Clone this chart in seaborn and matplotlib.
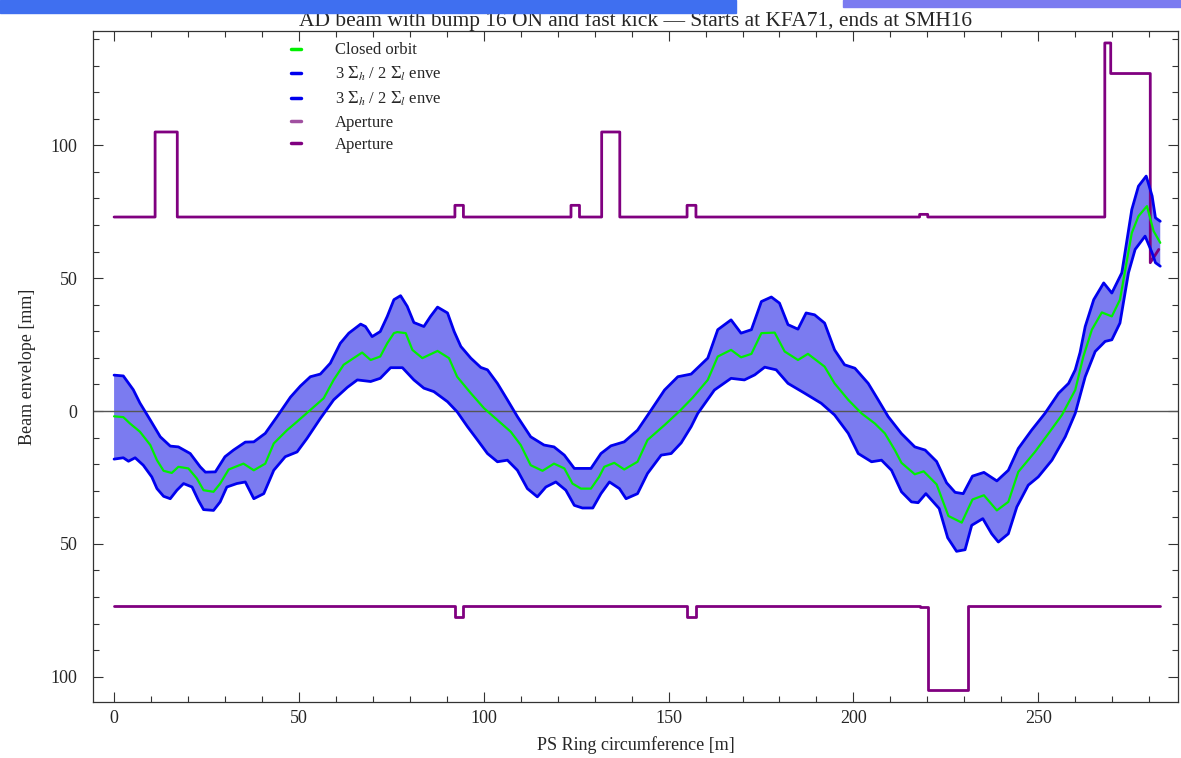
import numpy as np
import pandas as pd
import matplotlib
matplotlib.use("Agg")
import matplotlib.pyplot as plt
import matplotlib.patches as mpatches
from matplotlib.lines import Line2D
from matplotlib.ticker import MultipleLocator, FuncFormatter
import seaborn as sns

# --- Donnees (s en m, enveloppes en mm) ---
orbit_s = [0, 2.5, 4.3, 7, 9.8, 11.6, 13.4, 15.6, 17.4, 20.1, 22.4, 24.2, 26.9, 28.7,
           31, 35, 37.8, 40.9, 43.2, 46.8, 49.5, 53.1, 56.7, 59.4, 62.1, 64.8, 67.1,
           69.4, 72, 73.9, 75.7, 76.6, 78.9, 80.7, 83.4, 85.2, 87.5, 90.6, 92.8, 96.5,
           100.1, 103.7, 107.3, 110, 112.7, 115.9, 119, 121.8, 124, 126.3, 129, 131.2,
           132.6, 135.3, 138, 141.6, 144.3, 148.9, 153, 156.5, 160.6, 163.3, 166.9,
           169.6, 172.4, 175.1, 178.7, 181.4, 185, 187.7, 192.2, 194.9, 198.6, 202.2,
           205.8, 208.5, 211.2, 213, 216.6, 219, 222.5, 225.7, 229.3, 232.2, 235.3,
           238.8, 241.9, 244.6, 249.1, 252.8, 256.4, 260, 262.2, 264.5, 267.2, 269.9,
           272.1, 275.3, 277.1, 279.4, 281.2, 283]
orbit_mm = [-2, -2.3, -4.7, -7.8, -12.8, -18.5, -22.5, -23.3, -21, -21.6, -25.4, -29.8,
            -30.4, -27.3, -22, -19.8, -22.3, -19.8, -12.2, -7.2, -4, 0.4, 4.8, 11.7, 17.4,
            19.9, 22, 19.2, 20.5, 25.5, 29.3, 29.7, 29.3, 23, 19.9, 21.1, 22.6, 19.9, 12.9,
            6.7, 1, -3.4, -7.8, -12.8, -20.4, -22.5, -19.8, -21.6, -27.3, -29.2, -29.2,
            -24.8, -21, -19.5, -22, -19.1, -10.9, -5.3, 0, 5, 11.7, 20.5, 23, 20.2, 21.5,
            29.3, 29.5, 22.4, 19.2, 21.5, 16.7, 10.4, 4.2, -0.9, -4.7, -8.4, -14.7, -19.5,
            -23.8, -22.7, -27.6, -39.5, -42, -33.3, -31.7, -37.4, -34.2, -22.9, -15.4,
            -8.4, -1.5, 7.9, 20.5, 30.6, 37.1, 35.6, 41.9, 67, 73.3, 77.1, 67.7, 63.3]

upper_s = [0, 2.5, 5.2, 7, 9.8, 12.5, 15.2, 17.4, 20.6, 23.3, 24.7, 27.4, 30, 32.3,
           35.5, 37.8, 40.9, 44.1, 47.7, 50.4, 53.1, 55.8, 58.5, 61.2, 63.5, 66.7, 68,
           69.8, 72, 73.9, 75.7, 77.5, 79.3, 81.1, 83.8, 85.6, 87.5, 90.2, 92, 93.8,
           96.5, 99.2, 101, 103.7, 106.4, 109.1, 112.7, 116.3, 119, 121.8, 124.5, 129,
           131.7, 134.4, 138, 141.6, 145.3, 148.9, 152.5, 156.1, 160.6, 163.3, 166.9,
           169.6, 172.4, 175.1, 177.8, 180, 182.3, 185, 187.2, 189.5, 192.2, 194.9,
           197.6, 200.4, 204, 206.7, 209.4, 213, 216.6, 219.4, 222.5, 225.2, 227.5,
           229.7, 232.2, 235.3, 238.8, 241.9, 244.6, 248.2, 251.8, 255.5, 258.2, 260,
           261.3, 262.7, 265, 267.7, 269.9, 272.6, 275.3, 277.1, 279.2, 280.8, 281.7, 283]
upper_mm = [13.5, 13.2, 8, 3, -3.4, -9.7, -13.2, -13.5, -16, -21, -23, -22.9, -17.2,
            -14.7, -11.7, -11.6, -8.4, -2.1, 5.2, 9.4, 12.9, 13.9, 18, 25.5, 29.3, 32.7,
            31.8, 28, 29.9, 35.6, 41.9, 43.4, 39.4, 33.3, 31.8, 35.6, 39.1, 36.9, 29.9,
            24.3, 19.9, 16.4, 15.5, 10.4, 4.2, -2.1, -9.7, -12.8, -13.5, -16.6, -21.6,
            -21.6, -16, -13.1, -11.6, -7.2, 0.4, 7.9, 12.9, 13.9, 19.9, 30.6, 34.3, 29.3,
            30.6, 41.2, 42.9, 40.6, 32.5, 30.8, 36.9, 36.2, 33.1, 23, 17.4, 16.1, 10.4,
            4.2, -2.1, -8.5, -13.5, -14.7, -19, -27, -30.6, -31.1, -24.5, -23.1, -26.3,
            -22.3, -14.1, -7.2, -0.9, 6.7, 10.4, 15.5, 22, 31.8, 41.9, 48.2, 44.4, 52,
            75.8, 84.6, 88.4, 80.9, 72.7, 71.4]

lower_s = [0, 2.5, 3.9, 5.7, 7.9, 10.2, 11.6, 13.4, 15.2, 17, 18.8, 21.1, 22.8, 24.2,
           26.9, 28.7, 30.5, 33.2, 35.5, 37.8, 40.5, 43.2, 46.3, 49.5, 52.2, 55.8, 59.4,
           63.1, 65.8, 69.4, 72, 74.8, 78, 81.1, 83.8, 86.5, 90.2, 92.8, 95.6, 98.3, 101,
           103.7, 106.4, 109.1, 111.8, 114.5, 116.8, 119.5, 122.2, 124.5, 126.7, 129.5,
           131.7, 134, 136.7, 138.5, 141.6, 144.3, 148, 150.7, 153.4, 156.1, 157.9, 162.4,
           166.9, 170.5, 173.3, 176, 179.1, 182.3, 186.8, 191.3, 194.9, 198.6, 201.3,
           204.9, 207.6, 210.3, 213, 215.7, 217.5, 219.6, 223.2, 225.5, 227.9, 230.2, 232,
           235, 237.4, 239.2, 241.9, 244.2, 247.3, 250, 253.7, 257.3, 260, 262.7, 265.4,
           268.1, 269.9, 272.1, 274.4, 276.2, 278.9, 280.8, 281.7, 283]
lower_mm = [-18.1, -17.6, -18.9, -17.6, -20.4, -24.8, -29.2, -32.1, -33, -29.8, -27.3,
            -28.6, -33.6, -37.1, -37.4, -34.2, -28.6, -27.3, -26.7, -33, -31.1, -22.3,
            -17.2, -15.4, -10.3, -2.8, 4.2, 8.9, 11.7, 11.1, 12.3, 16.3, 16.3, 11.7, 8.6,
            7.3, 3.5, -0.3, -5.9, -10.9, -16, -19.1, -18.5, -22.3, -29.2, -32.3, -28.6,
            -26.7, -29.8, -35.5, -36.5, -36.5, -31.1, -26.7, -29.2, -33, -31.1, -23.5,
            -16.6, -16, -12, -5.9, -0.9, 7.9, 12.3, 11.7, 13.6, 16.5, 15.5, 10.4, 6.7, 2.9,
            -1.5, -8.4, -16, -19.1, -18.5, -22.3, -30.4, -34.2, -34.5, -31.1, -36.7,
            -47.7, -52.8, -52.2, -43, -40.5, -46.2, -49.3, -46.2, -36.1, -27.9, -24.8,
            -18.5, -9.7, -0.9, 12.9, 22.4, 26.2, 26.8, 33.1, 52, 60.8, 65.8, 59.5, 55.8,
            54.5]

# Ouverture (aperture) haute et basse
ap_top_s = [0, 11.1, 11.1, 17.1, 17.1, 92.2, 92.2, 94.5, 94.5, 123.6, 123.6, 125.9,
            125.9, 131.9, 131.9, 136.8, 136.8, 155.0, 155.0, 157.4, 157.4, 217.9, 217.9,
            220.1, 220.1, 268.0, 268.0, 269.6, 269.6, 280.3, 280.3, 282.6]
ap_top_mm = [73, 73, 105, 105, 73, 73, 77.4, 77.4, 73, 73, 77.4, 77.4, 73, 73, 105, 105,
             73, 73, 77.4, 77.4, 73, 73, 74, 74, 73, 73, 138.5, 138.5, 127, 127, 55.8, 60.8]
ap_bot_s = [0, 92.2, 92.2, 94.5, 94.5, 155.0, 155.0, 157.4, 157.4, 218.0, 218.0, 220.2,
            220.2, 231.1, 231.1, 282.8]
ap_bot_mm = [-73.2, -73.2, -77.4, -77.4, -73.2, -73.2, -77.4, -77.4, -73.2, -73.2, -73.8,
             -73.8, -104.9, -104.9, -73.2, -73.2]

TITLE = 'AD beam with bump 16 ON and fast kick \u2014 Starts at KFA71, ends at SMH16'
ENV_LABEL = '3 $\\Sigma_h$ / 2 $\\Sigma_l$ enve'

# Couleurs
GREEN = '#00f000'
BLUE = '#0000ee'
FILL = '#7b7bf0'
PURPLE = '#800080'

sns.set_style('ticks')
plt.rcParams['font.family'] = ['Liberation Serif', 'DejaVu Serif']
plt.rcParams['mathtext.fontset'] = 'stix'
plt.rcParams['xtick.direction'] = 'in'
plt.rcParams['ytick.direction'] = 'in'

W, H = 1181, 758
fig = plt.figure(figsize=(W / 100, H / 100), dpi=100)
ax = fig.add_axes([93 / W, 1 - 702 / H, (1178 - 93) / W, (702 - 31) / H])

# Bande des enveloppes
env_x = np.concatenate([upper_s, lower_s[::-1]])
env_y = np.concatenate([upper_mm, lower_mm[::-1]])
ax.fill(env_x, env_y, color=FILL, lw=0, zorder=1)

ax.axhline(0, color='#555555', lw=1.0, zorder=1.5)

df_top = pd.DataFrame({'s': ap_top_s, 'y': ap_top_mm})
df_bot = pd.DataFrame({'s': ap_bot_s, 'y': ap_bot_mm})
sns.lineplot(data=df_top, x='s', y='y', ax=ax, color=PURPLE, lw=2.0,
             estimator=None, sort=False, zorder=2)
sns.lineplot(data=df_bot, x='s', y='y', ax=ax, color=PURPLE, lw=2.0,
             estimator=None, sort=False, zorder=2)

for xs, ys in [(upper_s, upper_mm), (lower_s, lower_mm)]:
    sns.lineplot(x=xs, y=ys, ax=ax, color=BLUE, lw=2.0, estimator=None,
                 sort=False, zorder=3, solid_joinstyle='round')
sns.lineplot(x=orbit_s, y=orbit_mm, ax=ax, color=GREEN, lw=1.6, estimator=None,
             sort=False, zorder=4, solid_joinstyle='round')

ax.set_xlim(-5.7, 287.8)
ax.set_ylim(-109.5, 143)

ax.xaxis.set_major_locator(MultipleLocator(50))
ax.xaxis.set_minor_locator(MultipleLocator(10))
ax.yaxis.set_major_locator(MultipleLocator(50))
ax.yaxis.set_minor_locator(MultipleLocator(10))
ax.yaxis.set_major_formatter(FuncFormatter(lambda v, p: f'{abs(v):g}'))
ax.tick_params(which='both', top=True, right=True, direction='in',
               color='#333333', width=0.8, labelsize=13)
ax.tick_params(which='major', length=7)
ax.tick_params(which='minor', length=4)
ax.tick_params(axis='x', which='major', pad=6)
ax.tick_params(axis='y', which='major', pad=11)
for sp in ax.spines.values():
    sp.set_linewidth(0.9)
    sp.set_color('#333333')

ax.set_xlabel('PS Ring circumference [m]', fontsize=13, labelpad=6)
ax.set_ylabel('Beam envelope [mm]', fontsize=13, labelpad=11)
ax.set_title(TITLE, fontsize=15.5, pad=0)

handles = [
    Line2D([], [], color=GREEN, lw=2.5),
    Line2D([], [], color=BLUE, lw=2.5),
    Line2D([], [], color=BLUE, lw=2.5),
    Line2D([], [], color='#a050a0', lw=2.5),
    Line2D([], [], color=PURPLE, lw=2.5),
]
labels = ['Closed orbit', ENV_LABEL, ENV_LABEL, 'Aperture', 'Aperture']
ax.legend(handles, labels, loc='upper left',
          bbox_to_anchor=((278 - 93) / (1178 - 93), 1.0 + 2 / (702 - 31)),
          frameon=False, fontsize=12, handlelength=0.6, handletextpad=2.0,
          labelspacing=0.39, borderpad=0.3)

# bandeau de capture en haut
fig.patches.append(mpatches.Rectangle((0, 1 - 13 / H), 736 / W, 13 / H,
                                      transform=fig.transFigure, color='#3f6ff0'))
fig.patches.append(mpatches.Rectangle((843 / W, 1 - 7 / H), (W - 843) / W, 7 / H,
                                      transform=fig.transFigure, color=FILL))

fig.savefig('out.png', dpi=100)
